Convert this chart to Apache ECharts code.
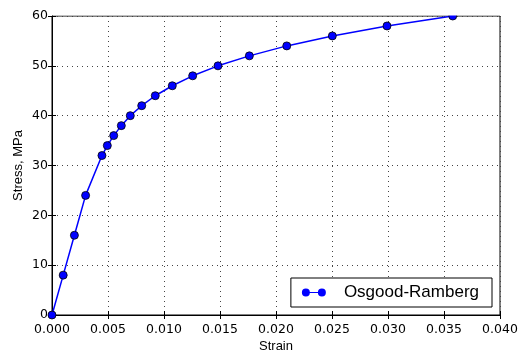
<!DOCTYPE html>
<html>
<head>
<meta charset="utf-8">
<script src="https://cdn.jsdelivr.net/npm/echarts@6/dist/echarts.min.js"></script>
<style>
  html, body { margin: 0; padding: 0; background: #fff; }
  #chart { width: 519px; height: 354px; }
</style>
</head>
<body>
<div id="chart"></div>
<script>
// Osgood-Ramberg stress–strain curve
const strain = [0, 0.001, 0.002, 0.003, 0.00446, 0.00494, 0.00551, 0.00619, 0.00699,
  0.00801, 0.00922, 0.01074, 0.01256, 0.01482, 0.01762, 0.02096, 0.02503, 0.02991, 0.03578];
const stress = [0, 8, 16, 24, 32, 34, 36, 38, 40, 42, 44, 46, 48, 50, 52, 54, 56, 58, 60];
const seriesName = 'Osgood-Ramberg';
const xTitle = 'Strain';
const yTitle = 'Stress, MPa';

const points = strain.map((s, i) => [s, stress[i]]);

const tickFont = { fontFamily: 'DejaVu Sans', fontSize: 12.5, color: '#000' };
const titleFont = { fontFamily: 'Liberation Sans', fontSize: 13, color: '#000' };
const gridLine = { show: true, lineStyle: { color: '#444', width: 1, type: [1, 4] } };
const frameLine = { show: true, lineStyle: { color: '#000', width: 1 } };
const innerTick = { show: true, inside: true, length: 4, lineStyle: { color: '#000', width: 1 } };

const chart = echarts.init(document.getElementById('chart'), null, { renderer: 'canvas' });
chart.setOption({
  animation: false,
  backgroundColor: '#fff',
  grid: {
    left: 52, right: 19, top: 16, bottom: 39, outerBoundsMode: 'none', containLabel: false,
    show: true, borderColor: '#000', borderWidth: 1
  },
  xAxis: [
    {
      type: 'value', min: 0, max: 0.04, interval: 0.005, position: 'bottom',
      name: xTitle, nameLocation: 'middle', nameGap: 24.5, nameMoveOverlap: false, nameTextStyle: titleFont,
      axisLine: frameLine, axisTick: innerTick, splitLine: gridLine,
      axisLabel: Object.assign({ margin: 8, formatter: v => v.toFixed(3) }, tickFont)
    },
    {
      type: 'value', min: 0, max: 0.04, interval: 0.005, position: 'top',
      axisLine: frameLine, axisTick: innerTick, splitLine: { show: false },
      axisLabel: { show: false }
    }
  ],
  yAxis: [
    {
      type: 'value', min: 0, max: 60, interval: 10, position: 'left',
      name: yTitle, nameLocation: 'middle', nameGap: 27.5, nameRotate: 90, nameMoveOverlap: false,
      nameTextStyle: titleFont,
      axisLine: frameLine, axisTick: innerTick, splitLine: gridLine,
      axisLabel: Object.assign({ margin: 4 }, tickFont)
    },
    {
      type: 'value', min: 0, max: 60, interval: 10, position: 'right',
      axisLine: frameLine, axisTick: innerTick, splitLine: { show: false },
      axisLabel: { show: false }
    }
  ],
  legend: {
    right: 27, bottom: 47,
    orient: 'horizontal',
    backgroundColor: '#fff',
    borderColor: '#000', borderWidth: 1, borderRadius: 0,
    padding: [6, 13, 6, 11],
    itemWidth: 24, itemHeight: 8,
    itemStyle: { color: '#0000ff', borderWidth: 0 },
    icon: 'path://M0,4 A4,4 0 1,1 8,4 A4,4 0 1,1 0,4 Z M7,3.4 L17,3.4 L17,4.6 L7,4.6 Z M16,4 A4,4 0 1,1 24,4 A4,4 0 1,1 16,4 Z',
    formatter: '{t|{name}}',
    textStyle: {
      rich: { t: { fontFamily: 'Liberation Sans', fontSize: 17, color: '#000', padding: [0, 0, 0, 13] } }
    },
    data: [seriesName]
  },
  series: [{
    name: seriesName,
    type: 'line',
    data: points,
    clip: false,
    symbol: 'circle',
    symbolSize: 8,
    lineStyle: { color: '#0000ff', width: 1.5 },
    itemStyle: { color: '#0000ff', borderColor: '#000', borderWidth: 0.8 },
    z: 3
  }],
  graphic: [{
    // trims marks that spill above the top edge of the plot frame
    type: 'rect', z: 100,
    shape: { x: 52.5, y: 0, width: 467, height: 15.5 },
    style: { fill: '#fff' }
  }]
});
</script>
</body>
</html>
